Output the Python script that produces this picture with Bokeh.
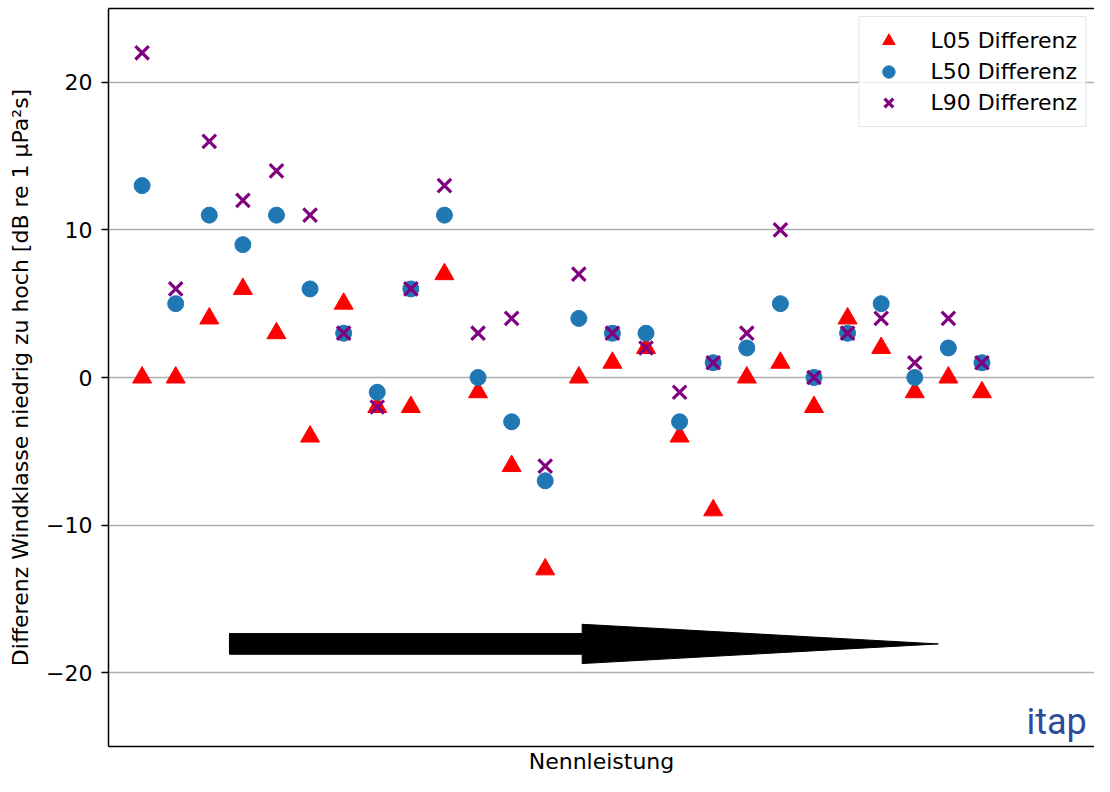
from bokeh.plotting import figure
from bokeh.models import (Range1d, LinearAxis, FixedTicker, Legend, LegendItem, Label)
from bokeh.embed import file_html
from bokeh.resources import INLINE

# ---- data ----
index = list(range(1, 27))
l05 = [0, 0, 4, 6, 3, -4, 5, -2, -2, 7, -1, -6, -13, 0, 1, 2, -4, -9, 0, 1, -2, 4, 2, -1, 0, -1]
l50 = [13, 5, 11, 9, 11, 6, 3, -1, 6, 11, 0, -3, -7, 4, 3, 3, -3, 1, 2, 5, 0, 3, 5, 0, 2, 1]
l90 = [22, 6, 16, 12, 14, 11, 3, -2, 6, 13, 3, 4, -6, 7, 3, 2, -1, 1, 3, 10, 0, 3, 4, 1, 4, 1]
series_names = ["L05 Differenz", "L50 Differenz", "L90 Differenz"]
y_ticks = [-20, -10, 0, 10, 20]
y_tick_labels = ["\u221220", "\u221210", "0", "10", "20"]
y_label = "Differenz Windklasse niedrig zu hoch [dB re 1 \u03bcPa\u00b2s]"
x_label = "Nennleistung"

# arrow annotation (data units)
arrow_start, arrow_head_base, arrow_tip = 3.6, 14.1, 24.7
arrow_y, shaft_half, head_half = -18.05, 0.7, 1.33

FONT = "DejaVu Sans"

p = figure(width=1094, height=776, output_backend="svg", toolbar_location=None,
           x_range=Range1d(0, 29.35), y_range=Range1d(-25, 25),
           min_border_left=108, min_border_right=0, min_border_top=8, min_border_bottom=0)
p.outline_line_color = None
p.background_fill_color = "white"

# y axis
ya = p.yaxis[0]
ya.ticker = FixedTicker(ticks=y_ticks)
ya.major_label_overrides = {t: l for t, l in zip(y_ticks, y_tick_labels)}
ya.major_label_text_font = FONT
ya.major_label_text_font_size = "22px"
ya.major_label_text_color = "black"
ya.axis_label = y_label
ya.axis_label_text_font = FONT
ya.axis_label_text_font_size = "22px"
ya.axis_label_text_font_style = "normal"
ya.axis_label_text_color = "black"
ya.axis_label_standoff = 10
ya.major_label_standoff = 9
ya.major_tick_out = 7
ya.major_tick_in = 0
ya.major_tick_line_width = 1.5
ya.minor_tick_line_color = None
ya.axis_line_width = 1.5
ya.axis_line_color = "black"

# x axis
xa = p.xaxis[0]
xa.ticker = FixedTicker(ticks=[])
xa.major_label_text_font_size = "0px"
xa.major_tick_out = 0
xa.minor_tick_line_color = None
xa.major_label_standoff = 0
xa.axis_label = x_label
xa.axis_label_text_font = FONT
xa.axis_label_text_font_size = "22px"
xa.axis_label_text_font_style = "normal"
xa.axis_label_text_color = "black"
xa.axis_label_standoff = 2
xa.axis_line_width = 1.5
xa.axis_line_color = "black"

# top border
top = LinearAxis(ticker=FixedTicker(ticks=[]), major_label_text_font_size="0px",
                 major_tick_out=0, major_tick_in=0, minor_tick_line_color=None,
                 major_label_standoff=0, axis_line_width=1.5, axis_line_color="black")
p.add_layout(top, "above")

p.xgrid.grid_line_color = None
p.ygrid.grid_line_color = "#b0b0b0"
p.ygrid.grid_line_width = 1.6

# arrow
shaft_xs = [arrow_start, arrow_head_base, arrow_head_base, arrow_start]
shaft_ys = [arrow_y + shaft_half, arrow_y + shaft_half, arrow_y - shaft_half, arrow_y - shaft_half]
p.patch(shaft_xs, shaft_ys, fill_color="black", line_color="black", line_width=1)
head_xs = [arrow_head_base, arrow_tip, arrow_head_base]
head_ys = [arrow_y + head_half, arrow_y, arrow_y - head_half]
p.patch(head_xs, head_ys, fill_color="black", line_color="black", line_width=1)

r1 = p.scatter(index, l05, marker="triangle", size=19, fill_color="#ff0000", line_color="#ff0000", line_width=1)
r2 = p.scatter(index, l50, marker="circle", size=16, fill_color="#1f77b4", line_color="#1f77b4", line_width=1)
r3 = p.scatter(index, l90, marker="x", size=19, line_color="#800080", line_width=3.2)

legend = Legend(items=[LegendItem(label=series_names[0], renderers=[r1]),
                       LegendItem(label=series_names[1], renderers=[r2]),
                       LegendItem(label=series_names[2], renderers=[r3])],
                location="top_right")
legend.label_text_font = FONT
legend.label_text_font_size = "22px"
legend.label_text_color = "black"
legend.glyph_width = 42
legend.glyph_height = 31
legend.label_height = 31
legend.label_standoff = 21
legend.spacing = 0
legend.padding = 8
legend.margin = 8
legend.border_line_color = "#cccccc"
legend.border_line_width = 1.5
legend.background_fill_color = "white"
legend.background_fill_alpha = 0.8
p.add_layout(legend)

logo = Label(x=918, y=4, x_units="screen", y_units="screen", text="itap",
             text_font="Roboto", text_font_size="36px", text_color="#2d4b9b",
             text_baseline="bottom", text_align="left")
p.add_layout(logo)

open("out.html", "w").write(file_html(p, INLINE))
